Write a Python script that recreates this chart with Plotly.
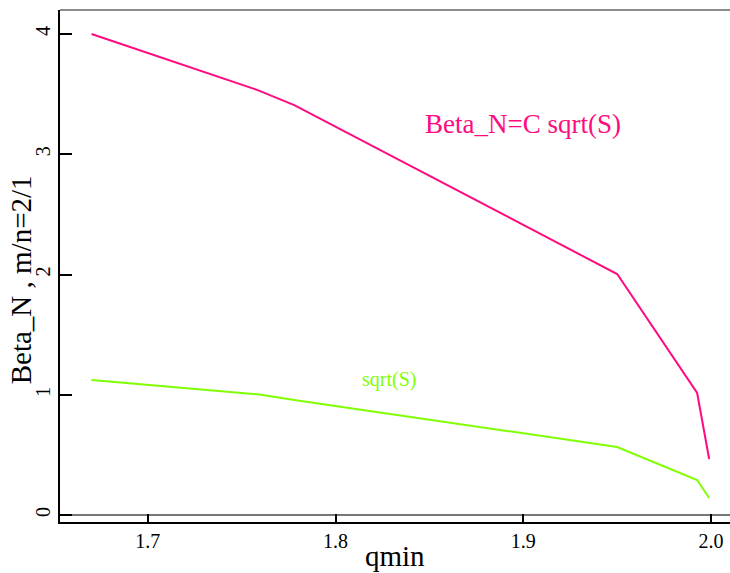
import plotly.graph_objects as go

qmin = [1.670, 1.7585, 1.778, 1.950, 1.9926, 1.999]
beta_n = [4.00, 3.534, 3.409, 2.004, 1.015, 0.466]
sqrt_s = [1.123, 1.004, 0.956, 0.566, 0.291, 0.141]

x_ticks = [1.7, 1.8, 1.9, 2.0]
x_tick_text = ["1.7", "1.8", "1.9", "2.0"]
y_ticks = [0, 1, 2, 3, 4]

MAGENTA = "#ff0a7f"
GREEN = "#80ff00"
FONT = "Liberation Serif"

fig = go.Figure()
fig.add_trace(go.Scatter(x=qmin, y=beta_n, mode="lines",
                         line=dict(color=MAGENTA, width=2), showlegend=False))
fig.add_trace(go.Scatter(x=qmin, y=sqrt_s, mode="lines",
                         line=dict(color=GREEN, width=2), showlegend=False))

fig.add_annotation(x=1.900, y=3.25, text="Beta_N=C sqrt(S)", showarrow=False,
                   font=dict(family=FONT, size=27, color=MAGENTA))
fig.add_annotation(x=1.8287, y=1.13, text="sqrt(S)", showarrow=False,
                   font=dict(family=FONT, size=20, color=GREEN))

# axis titles
fig.add_annotation(xref="paper", yref="paper", x=0.5, y=-0.066, text="qmin",
                   showarrow=False, xanchor="center", yanchor="middle",
                   font=dict(family=FONT, size=29, color="black"))
fig.add_annotation(xref="paper", yref="paper", x=-0.059, y=0.473,
                   text="Beta_N , m/n=2/1", textangle=-90,
                   showarrow=False, xanchor="center", yanchor="middle",
                   font=dict(family=FONT, size=29, color="black"))

# top border (gray)
fig.add_shape(type="line", xref="paper", yref="paper", x0=0, x1=1, y0=1, y1=1,
              line=dict(color="#666666", width=1.5))

fig.update_layout(
    width=730, height=573,
    margin=dict(l=60, r=0, t=10, b=51),
    plot_bgcolor="white", paper_bgcolor="white",
    font=dict(family=FONT, color="black"),
    xaxis=dict(range=[1.6532, 2.0101], tickvals=x_ticks, ticktext=x_tick_text,
               ticks="inside", ticklen=8, tickwidth=2, tickcolor="black",
               showline=True, linecolor="black", linewidth=1.5,
               showgrid=False, zeroline=False,
               tickfont=dict(family=FONT, size=20)),
    yaxis=dict(range=[-0.058, 4.2], tickvals=y_ticks,
               ticks="inside", ticklen=12, tickwidth=2, tickcolor="black",
               showline=True, linecolor="black", linewidth=1.5,
               showgrid=False, zeroline=True, zerolinecolor="#777777", zerolinewidth=1.5,
               tickangle=-90,
               tickfont=dict(family=FONT, size=20)),
)

fig.write_html("out.html")
